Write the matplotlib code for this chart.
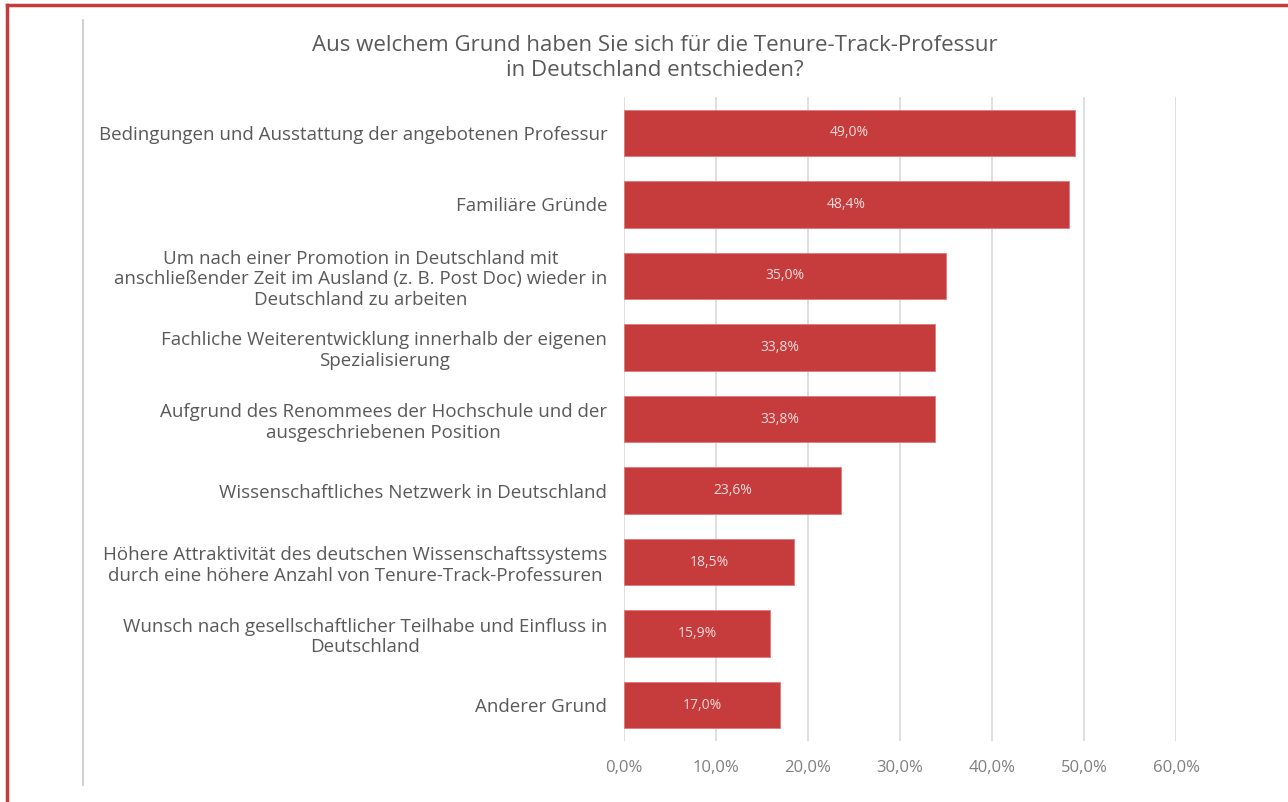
import matplotlib.pyplot as plt
from matplotlib.lines import Line2D

# Data
categories = [
    "Bedingungen und Ausstattung der angebotenen Professur",
    "Familiäre Gründe",
    "Um nach einer Promotion in Deutschland mit\nanschließender Zeit im Ausland (z. B. Post Doc) wieder in\nDeutschland zu arbeiten",
    "Fachliche Weiterentwicklung innerhalb der eigenen\nSpezialisierung",
    "Aufgrund des Renommees der Hochschule und der\nausgeschriebenen Position",
    "Wissenschaftliches Netzwerk in Deutschland",
    "Höhere Attraktivität des deutschen Wissenschaftssystems\ndurch eine höhere Anzahl von Tenure-Track-Professuren",
    "Wunsch nach gesellschaftlicher Teilhabe und Einfluss in\nDeutschland",
    "Anderer Grund",
]
values = [0.490, 0.484, 0.350, 0.338, 0.338, 0.236, 0.185, 0.159, 0.170]
xticks = [0.0, 0.1, 0.2, 0.3, 0.4, 0.5, 0.6]

TEXT = "#595959"
BAR = "#C63B3B"
GRID = "#D9D9D9"

plt.rcParams['font.family'] = ['Open Sans', 'DejaVu Sans']

fig = plt.figure(figsize=(12.88, 8.02), dpi=100)
ax = fig.add_axes([624 / 1288, 1 - 741 / 802, 552 / 1288, 644 / 802])

ypos = list(range(len(categories)))
ax.barh(ypos, values, height=0.65, color=BAR, edgecolor="#E07A7A", linewidth=0.6, zorder=3)
for y, v in zip(ypos, values):
    ax.text(v / 2, y, f"{v * 100:.1f}%".replace(".", ","), ha="center", va="center",
            color="#F3DCDC", fontsize=10, zorder=4)

ax.set_xlim(0, 0.6)
ax.set_ylim(len(categories) - 0.5, -0.5)
ax.set_xticks(xticks)
ax.set_xticklabels([f"{t * 100:.1f}%".replace(".", ",") for t in xticks])
ax.set_yticks(ypos)
ax.set_yticklabels(categories, fontsize=13.5, color=TEXT, linespacing=1.18,
                   multialignment="center")
ax.tick_params(axis="y", length=0, pad=12)
ax.tick_params(axis="x", length=0, pad=14, labelsize=12, labelcolor="#7F7F7F")
ax.grid(axis="x", color=GRID, linewidth=1.2, zorder=0)
ax.set_axisbelow(True)
for s in ax.spines.values():
    s.set_visible(False)

fig.text(655 / 1288, 1 - 58 / 802,
         "Aus welchem Grund haben Sie sich für die Tenure-Track-Professur\nin Deutschland entschieden?",
         ha="center", va="center", fontsize=16, color=TEXT, linespacing=1.3)

# frame lines
fig.add_artist(Line2D([7 / 1288, 7 / 1288], [0, 1 - 5 / 802], color="#C63B3B", linewidth=2.5))
fig.add_artist(Line2D([7 / 1288, 1], [1 - 5 / 802, 1 - 5 / 802], color="#C63B3B", linewidth=2.5))
fig.add_artist(Line2D([83 / 1288, 83 / 1288], [1 - 785 / 802, 1 - 20 / 802], color="#C8C8C8", linewidth=1.2))

fig.savefig("out.png", dpi=100, facecolor="white")
